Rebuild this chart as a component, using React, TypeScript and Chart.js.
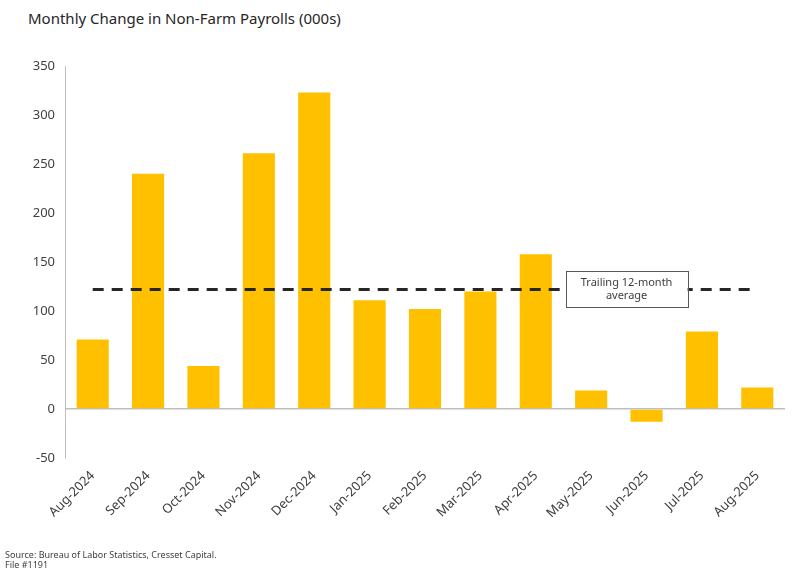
import React, { useEffect, useRef } from "react";
import { Chart, registerables } from "chart.js";

Chart.register(...registerables);

const months = [
  "Aug-2024", "Sep-2024", "Oct-2024", "Nov-2024", "Dec-2024", "Jan-2025",
  "Feb-2025", "Mar-2025", "Apr-2025", "May-2025", "Jun-2025", "Jul-2025", "Aug-2025",
];
const payrollChanges = [71, 240, 44, 261, 323, 111, 102, 120, 158, 19, -13, 79, 22];
const trailingAverage = 122;
const averageLabel = ["Trailing 12-month", "average"];
const labelCategoryPosition = 9.64;

const FONT = "'Noto Sans', sans-serif";

const boxPlugin = {
  id: "avgBox",
  afterDatasetsDraw(chart: any) {
    const { ctx, scales } = chart;
    const cx = scales.x.getPixelForValue(labelCategoryPosition);
    const cy = scales.y.getPixelForValue(trailingAverage);
    const w = 122;
    const h = 36;
    ctx.save();
    ctx.fillStyle = "#ffffff";
    ctx.strokeStyle = "#595959";
    ctx.lineWidth = 1;
    ctx.fillRect(cx - w / 2, cy - h / 2, w, h);
    ctx.strokeRect(Math.round(cx - w / 2) + 0.5, Math.round(cy - h / 2) + 0.5, w, h);
    ctx.fillStyle = "#404040";
    ctx.font = `11px ${FONT}`;
    ctx.textAlign = "center";
    ctx.textBaseline = "middle";
    ctx.fillText(averageLabel[0], cx, cy - 7);
    ctx.fillText(averageLabel[1], cx, cy + 6);
    ctx.restore();
  },
};

export default function App() {
  const ref = useRef<HTMLCanvasElement>(null);
  useEffect(() => {
    if (!ref.current) return;
    const chart = new Chart(ref.current, {
      type: "bar",
      data: {
        labels: months,
        datasets: [
          {
            type: "line",
            data: months.map(() => trailingAverage),
            borderColor: "#262626",
            borderWidth: 3,
            borderDash: [11, 8],
            pointRadius: 0,
            fill: false,
            order: 0,
          } as any,
          {
            type: "bar",
            data: payrollChanges,
            backgroundColor: "#FFC000",
            categoryPercentage: 1,
            barPercentage: 0.58,
            order: 1,
          },
        ],
      },
      options: {
        animation: false,
        responsive: false,
        maintainAspectRatio: false,
        layout: { padding: { left: 0, top: 66, right: 21, bottom: 0 } },
        plugins: { legend: { display: false }, tooltip: { enabled: false }, title: { display: false } },
        scales: {
          x: {
            grid: { display: false },
            border: { display: false },
            ticks: {
              color: "#404040",
              font: { family: FONT, size: 13 },
              maxRotation: 45,
              minRotation: 45,
              padding: 2,
              autoSkip: false,
            },
            afterFit: (s: any) => { s.height = 128; },
          },
          y: {
            min: -50,
            max: 350,
            ticks: {
              stepSize: 50,
              color: "#404040",
              font: { family: FONT, size: 13 },
              padding: 10,
            },
            grid: {
              drawTicks: false,
              color: (c: any) => (c.tick && c.tick.value === 0 ? "#bfbfbf" : "rgba(0,0,0,0)"),
              lineWidth: 1.5,
            },
            border: { display: true, color: "#bfbfbf", width: 1 },
            afterFit: (s: any) => { s.width = 65; },
          },
        },
      },
      plugins: [boxPlugin],
    });
    return () => chart.destroy();
  }, []);

  return (
    <div style={{ position: "fixed", left: 0, top: 0, width: 806, height: 586, background: "#fff", fontFamily: FONT }}>
      <div style={{ position: "absolute", left: 28, top: 8, fontSize: 15, color: "#262626", whiteSpace: "nowrap" }}>
        Monthly Change in Non-Farm Payrolls (000s)
      </div>
      <canvas ref={ref} width={806} height={586} style={{ position: "absolute", left: 0, top: 0, width: 806, height: 586 }} />
      <div style={{ position: "absolute", left: 5, top: 550, fontSize: 9, lineHeight: "10px", color: "#404040", whiteSpace: "nowrap" }}>
        Source: Bureau of Labor Statistics, Cresset Capital.
        <br />
        File #1191
      </div>
    </div>
  );
}
